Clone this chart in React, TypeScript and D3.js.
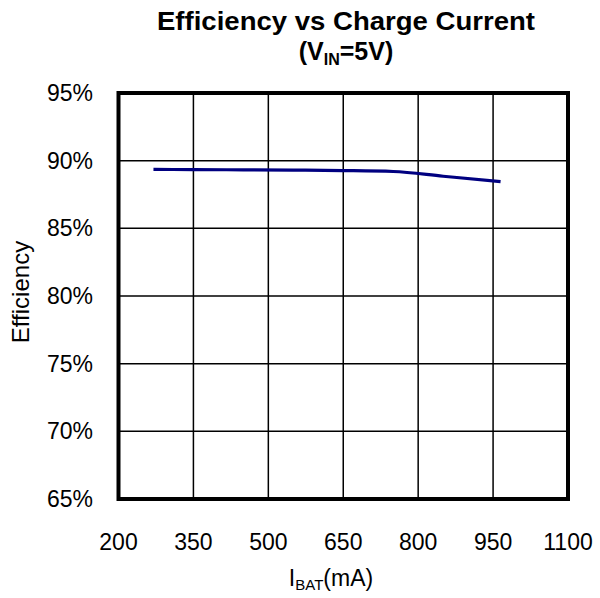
import React from "react";
import * as d3 from "d3";

const currents = [270, 350, 450, 550, 650, 750, 850, 965];
const efficiency = [89.35, 89.34, 89.32, 89.3, 89.27, 89.2, 88.85, 88.45];
const xTicks = [200, 350, 500, 650, 800, 950, 1100];
const yTicks = [65, 70, 75, 80, 85, 90, 95];

const W = 600;
const H = 598;
const M = { left: 118.5, right: 568, top: 93, bottom: 499 };
const FONT = "'Liberation Sans', Arial, sans-serif";

export default function App() {
  const x = d3.scaleLinear().domain([200, 1100]).range([M.left, M.right]);
  const y = d3.scaleLinear().domain([65, 95]).range([M.bottom, M.top]);
  const line = d3
    .line<number>()
    .x((_, i) => x(currents[i]))
    .y((d) => y(d))
    .curve(d3.curveMonotoneX);

  return (
    <svg
      width={W}
      height={H}
      style={{ position: "absolute", left: 0, top: 0, background: "#fff" }}
      fontFamily={FONT}
    >
      <rect x={0} y={0} width={W} height={H} fill="#fff" />
      {/* Title */}
      <text
        x={346}
        y={30}
        textAnchor="middle"
        fontSize={25}
        fontWeight="bold"
        fill="#000"
        textLength={378}
        lengthAdjust="spacingAndGlyphs"
      >
        Efficiency vs Charge Current
      </text>
      <text x={346} y={60} textAnchor="middle" fontSize={25} fontWeight="bold" fill="#000">
        (V<tspan fontSize={16} dy={5}>IN</tspan>
        <tspan dy={-5}>=5V)</tspan>
      </text>

      {/* grid */}
      {xTicks.slice(1, -1).map((t) => (
        <line key={"vx" + t} x1={x(t)} x2={x(t)} y1={M.top} y2={M.bottom} stroke="#000" strokeWidth={1.5} />
      ))}
      {yTicks.slice(1, -1).map((t) => (
        <line key={"hy" + t} x1={M.left} x2={M.right} y1={y(t)} y2={y(t)} stroke="#000" strokeWidth={1.5} />
      ))}

      {/* data line */}
      <path d={line(efficiency) || ""} fill="none" stroke="#000080" strokeWidth={3.2} />

      {/* border */}
      <rect
        x={M.left}
        y={M.top}
        width={M.right - M.left}
        height={M.bottom - M.top}
        fill="none"
        stroke="#000"
        strokeWidth={4}
      />

      {/* y ticks */}
      {yTicks.map((t) => (
        <text key={"yt" + t} x={93} y={y(t)} dy="0.35em" textAnchor="end" fontSize={23} fill="#000">
          {t}%
        </text>
      ))}
      {/* x ticks */}
      {xTicks.map((t) => (
        <text key={"xt" + t} x={x(t)} y={550} textAnchor="middle" fontSize={23} fill="#000">
          {t}
        </text>
      ))}

      {/* axis titles */}
      <text
        transform={`translate(29,292) rotate(-90)`}
        textAnchor="middle"
        fontSize={24}
        fill="#000"
      >
        Efficiency
      </text>
      <text x={331} y={586} textAnchor="middle" fontSize={23} fill="#000">
        I<tspan fontSize={15} dy={4}>BAT</tspan>
        <tspan dy={-4}>(mA)</tspan>
      </text>
    </svg>
  );
}
